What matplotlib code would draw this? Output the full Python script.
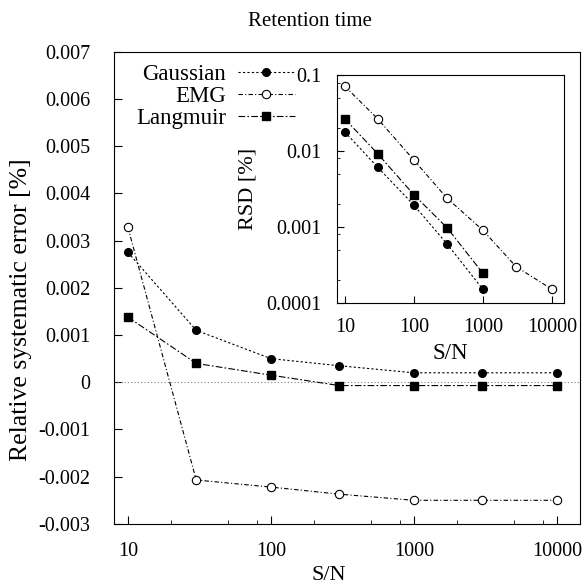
import matplotlib.pyplot as plt
from matplotlib.ticker import LogLocator, NullFormatter, FixedLocator, FixedFormatter

plt.rcParams['font.family'] = ['Liberation Serif', 'DejaVu Serif']
plt.rcParams['font.size'] = 14.5

# main plot: relative systematic error
sn = [10, 30, 100, 300, 1000, 3000, 10000]
gauss_err = [0.00275, 0.0011, 0.0005, 0.00035, 0.0002, 0.0002, 0.0002]
emg_err = [0.00328, -0.00207, -0.00222, -0.00237, -0.0025, -0.0025, -0.0025]
lang_err = [0.00138, 0.0004, 0.00015, -0.00007, -0.00007, -0.00007, -0.00007]

# inset: RSD
sn_short = [10, 30, 100, 300, 1000]
gauss_rsd = [0.0179, 0.0061, 0.00194, 0.0006, 0.00015]
emg_rsd = [0.0716, 0.0266, 0.0076, 0.0024, 0.0009, 0.0003, 0.00015]
lang_rsd = [0.0266, 0.0092, 0.00265, 0.00098, 0.000244]

main_ticks = [-0.003, -0.002, -0.001, 0, 0.001, 0.002, 0.003, 0.004, 0.005, 0.006, 0.007]
main_ticklabels = ['-0.003', '-0.002', '-0.001', '0', '0.001', '0.002', '0.003',
                   '0.004', '0.005', '0.006', '0.007']
inset_ticks = [0.0001, 0.001, 0.01, 0.1]
inset_ticklabels = ['0.0001', '0.001', '0.01', '0.1']
x_ticks = [10, 100, 1000, 10000]
x_ticklabels = ['10', '100', '1000', '10000']

gauss_style = dict(color='black', lw=0.8, dashes=(2, 2), marker='o', ms=5.5,
                   mfc='black', mec='black')
emg_style = dict(color='black', lw=0.8, dashes=(4, 2, 1, 2), marker='o', ms=6,
                 mfc='white', mec='black', mew=0.8)
lang_style = dict(color='black', lw=0.8, dashes=(6, 2, 1.5, 2), marker='s', ms=6,
                  mfc='black', mec='black')

fig = plt.figure(figsize=(5.82, 5.88), dpi=100)
ax = fig.add_axes([0.196, 0.109, 0.801, 0.803])

ax.axhline(0, color='gray', lw=0.8, ls=(0, (1, 2)))
ax.plot(sn, gauss_err, label='Gaussian', **gauss_style)
ax.plot(sn, emg_err, label='EMG', **emg_style)
ax.plot(sn, lang_err, label='Langmuir', **lang_style)

ax.set_xscale('log')
ax.set_xlim(8.0, 14500)
ax.set_ylim(-0.003, 0.007)
ax.yaxis.set_major_locator(FixedLocator(main_ticks))
ax.yaxis.set_major_formatter(FixedFormatter(main_ticklabels))
ax.xaxis.set_major_locator(FixedLocator(x_ticks))
ax.xaxis.set_major_formatter(FixedFormatter(x_ticklabels))
ax.xaxis.set_minor_locator(LogLocator(base=10, subs=(2, 5, 8)))
ax.xaxis.set_minor_formatter(NullFormatter())
ax.tick_params(which='both', direction='in', top=False, right=False)
ax.tick_params(which='major', length=6)
ax.tick_params(axis='y', which='major', pad=17)
ax.tick_params(axis='x', which='major', pad=13)
ax.tick_params(which='minor', length=3)
ax.set_xlabel('S/N', fontsize=16)
ax.set_ylabel('Relative systematic error [%]', fontsize=18.5)
ax.xaxis.set_label_coords(0.46, -0.09)
ax.yaxis.set_label_coords(-0.175, 0.453)

leg = ax.legend(loc='upper right', markerfirst=False, frameon=False,
                handlelength=2.5, handletextpad=0.5, labelspacing=0.05,
                borderpad=0.0, borderaxespad=0.0,
                bbox_to_anchor=(0.388, 0.975), fontsize=16.5)

fig.text(0.533, 0.963, 'Retention time', ha='center', va='center', fontsize=15)

# inset
axi = fig.add_axes([0.579, 0.485, 0.39, 0.387])
axi.plot(sn_short, gauss_rsd, **gauss_style)
axi.plot(sn, emg_rsd, **emg_style)
axi.plot(sn_short, lang_rsd, **lang_style)
axi.set_xscale('log')
axi.set_yscale('log')
axi.set_xlim(7.7, 14800)
axi.set_ylim(0.0001, 0.1)
axi.yaxis.set_major_locator(FixedLocator(inset_ticks))
axi.yaxis.set_major_formatter(FixedFormatter(inset_ticklabels))
axi.yaxis.set_minor_locator(LogLocator(base=10, subs=(2, 5, 8)))
axi.yaxis.set_minor_formatter(NullFormatter())
axi.xaxis.set_major_locator(FixedLocator(x_ticks))
axi.xaxis.set_major_formatter(FixedFormatter(x_ticklabels))
axi.xaxis.set_minor_locator(LogLocator(base=10, subs=(2, 5, 8)))
axi.xaxis.set_minor_formatter(NullFormatter())
axi.tick_params(which='both', direction='in', top=False, right=False)
axi.tick_params(which='major', length=5, pad=11)
axi.tick_params(which='minor', length=2.5)
axi.set_xlabel('S/N', fontsize=16.5)
axi.set_ylabel('RSD [%]', fontsize=16)
axi.xaxis.set_label_coords(0.5, -0.175)
axi.yaxis.set_label_coords(-0.352, 0.5)

fig.savefig('out.png', dpi=100)
